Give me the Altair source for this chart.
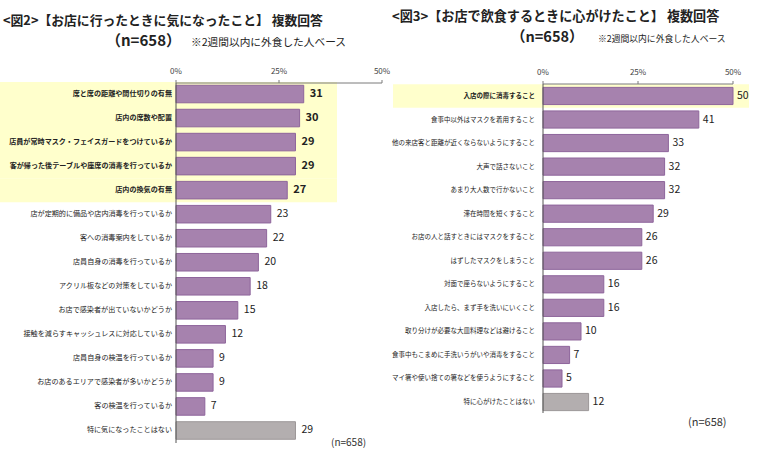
import altair as alt
import pandas as pd

# ---------------- data ----------------
left_labels = [
    "席と席の距離や間仕切りの有無",
    "店内の席数や配置",
    "店員が常時マスク・フェイスガードをつけているか",
    "客が帰った後テーブルや座席の消毒を行っているか",
    "店内の換気の有無",
    "店が定期的に備品や店内消毒を行っているか",
    "客への消毒案内をしているか",
    "店員自身の消毒を行っているか",
    "アクリル板などの対策をしているか",
    "お店で感染者が出ていないかどうか",
    "接触を減らすキャッシュレスに対応しているか",
    "店員自身の検温を行っているか",
    "お店のあるエリアで感染者が多いかどうか",
    "客の検温を行っているか",
    "特に気になったことはない",
]
left_values = [31, 30, 29, 29, 27, 23, 22, 20, 18, 15, 12, 9, 9, 7, 29]

right_labels = [
    "入店の際に消毒すること",
    "食事中以外はマスクを着用すること",
    "他の来店客と距離が近くならないようにすること",
    "大声で話さないこと",
    "あまり大人数で行かないこと",
    "滞在時間を短くすること",
    "お店の人と話すときにはマスクをすること",
    "はずしたマスクをしまうこと",
    "対面で座らないようにすること",
    "入店したら、まず手を洗いにいくこと",
    "取り分けが必要な大皿料理などは避けること",
    "食事中もこまめに手洗いうがいや消毒をすること",
    "マイ箸や使い捨ての箸などを使うようにすること",
    "特に心がけたことはない",
]
right_values = [50, 41, 33, 32, 32, 29, 26, 26, 16, 16, 10, 7, 5, 12]

tick_values = [0, 25, 50]
tick_labels = ["0%", "25%", "50%"]

left_title = "<図2>【お店に行ったときに気になったこと】 複数回答"
right_title = "<図3>【お店で飲食するときに心がけたこと】 複数回答"
n_text = "（n=658）"
base_note = "※2週間以内に外食した人ベース"
n_note = "(n=658)"

left_highlight = 5
right_highlight = 1

# ---------------- style ----------------
FONT = "Noto Sans CJK JP"
PURPLE = "#A682AE"
PURPLE_D = "#8E659B"
GREY = "#B3AEAF"
GREY_D = "#9C9798"
YELLOW = "#FFFFCC"
AXIS = "#7a7a7a"
TXT = "#222222"


def panel(labels, values, n_hl, x_range, y_range, hl_x, label_x, label_size):
    n = len(labels)
    df = pd.DataFrame({"label": labels, "value": values})
    df["kind"] = ["none" if i == n - 1 else "main" for i in range(n)]
    df["hl"] = [i < n_hl for i in range(n)]

    xs = alt.Scale(domain=[tick_values[0], tick_values[-1]], range=x_range, nice=False, zero=True)
    ys = alt.Scale(domain=labels, range=y_range, paddingInner=0.27, paddingOuter=0.135)
    ys_full = alt.Scale(domain=labels, range=y_range, paddingInner=0, paddingOuter=0)
    X = alt.X("value:Q", scale=xs, axis=None)
    Y = alt.Y("label:N", scale=ys, axis=None)
    base = alt.Chart(df)

    layers = []
    layers.append(
        base.transform_filter("datum.hl").mark_rect(color=YELLOW).encode(
            x=alt.value(hl_x[0]), x2=alt.value(hl_x[1]),
            y=alt.Y("label:N", scale=ys_full, axis=None),
        )
    )
    layers.append(
        base.mark_bar(strokeWidth=1).encode(
            x=X, y=Y,
            color=alt.Color("kind:N", scale=alt.Scale(domain=["main", "none"], range=[PURPLE, GREY]), legend=None),
            stroke=alt.Stroke("kind:N", scale=alt.Scale(domain=["main", "none"], range=[PURPLE_D, GREY_D]), legend=None),
        )
    )
    layers.append(
        base.transform_filter("datum.hl").mark_text(
            align="right", baseline="middle", fontSize=label_size, font=FONT,
            fontWeight="bold", color=TXT,
        ).encode(y=Y, x=alt.value(label_x), text="label:N")
    )
    layers.append(
        base.transform_filter("!datum.hl").mark_text(
            align="right", baseline="middle", fontSize=label_size, font=FONT, color=TXT,
        ).encode(y=Y, x=alt.value(label_x), text="label:N")
    )
    return layers, df, xs, X, Y


layers = []

# ---------- left panel ----------
L, ldf, lxs, LX, LY = panel(left_labels, left_values, left_highlight,
                            [176, 382], [82, 442.5], [0, 337], 172, 7.1)
layers += L
lbase = alt.Chart(ldf)
layers.append(
    lbase.transform_filter("datum.hl").mark_text(
        align="left", baseline="middle", dx=6, fontSize=11, fontWeight="bold", font=FONT, color=TXT
    ).encode(x=LX, y=LY, text="value:Q")
)
layers.append(
    lbase.transform_filter("!datum.hl").mark_text(
        align="left", baseline="middle", dx=6, fontSize=10.5, font=FONT, color=TXT
    ).encode(x=LX, y=LY, text="value:Q")
)

# ---------- right panel ----------
R, rdf, rxs, RX, RY = panel(right_labels, right_values, right_highlight,
                            [543, 733], [84.2, 413.8], [393, 749], 535, 6.5)
layers += R
rbase = alt.Chart(rdf)
layers.append(
    rbase.mark_text(
        align="left", baseline="middle", dx=4, fontSize=10.5, font=FONT, color=TXT
    ).encode(x=RX, y=RY, text="value:Q")
)

# ---------- axes (drawn through the scales) ----------
tick_df = pd.DataFrame({"v": tick_values, "t": tick_labels})
span_df = pd.DataFrame({"a": [tick_values[0]], "b": [tick_values[-1]]})
for xs, ay, bottom in [(lxs, 83, 443), (rxs, 84, 413)]:
    layers.append(
        alt.Chart(span_df).mark_rule(color=AXIS, strokeWidth=1).encode(
            x=alt.X("a:Q", scale=xs, axis=None), x2="b:Q", y=alt.value(ay)
        )
    )
    layers.append(
        alt.Chart(span_df).mark_rule(color="#555555", strokeWidth=1).encode(
            x=alt.X("a:Q", scale=xs, axis=None), y=alt.value(ay), y2=alt.value(bottom)
        )
    )
    layers.append(
        alt.Chart(tick_df).mark_rule(color=AXIS, strokeWidth=1).encode(
            x=alt.X("v:Q", scale=xs, axis=None), y=alt.value(ay - 3), y2=alt.value(ay)
        )
    )
    layers.append(
        alt.Chart(tick_df).mark_text(fontSize=8, font=FONT, color="#444444", baseline="middle").encode(
            x=alt.X("v:Q", scale=xs, axis=None), y=alt.value(ay - 11), text="t:N"
        )
    )

# ---------- titles and notes ----------
def txt(s, x, y, size, weight="normal", align="left", baseline="alphabetic", color=TXT):
    return alt.Chart(pd.DataFrame({"s": [s]})).mark_text(
        align=align, baseline=baseline, fontSize=size, fontWeight=weight, font=FONT, color=color
    ).encode(x=alt.value(x), y=alt.value(y), text="s:N")

layers += [
    txt(left_title, 3, 25, 12.8, "bold"),
    txt(n_text, 106, 46, 15, "bold"),
    txt(base_note, 191, 46, 10.7),
    txt(right_title, 392, 21, 13.1, "bold"),
    txt(n_text, 511, 42, 14.5, "bold"),
    txt(base_note, 598, 42, 8.8),
    txt(n_note, 331, 443, 10, baseline="middle", color="#333333"),
    txt(n_note, 688, 423, 11, baseline="middle", color="#333333"),
]

chart = alt.layer(*layers).resolve_scale(
    x="independent", y="independent", color="independent", stroke="independent"
).properties(
    width=760, height=461, autosize="none", padding=0, background="white"
).configure_view(stroke=None)

chart.save("out.html", embed_options={"renderer": "svg", "actions": False})
